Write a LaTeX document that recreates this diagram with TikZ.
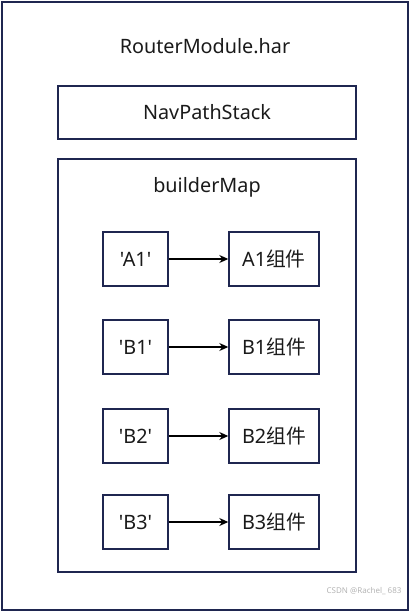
\documentclass[tikz,border=0pt]{standalone}
\usepackage{fontspec}
\newfontfamily\labelfont{Noto Sans}
\newfontfamily\cjk{Noto Sans CJK SC}
\usepackage{xcolor}
\usetikzlibrary{arrows.meta,positioning}
\definecolor{navyline}{HTML}{1F2650}
\definecolor{textmain}{HTML}{1A1A1A}
\definecolor{graymark}{HTML}{B4B4B4}
\tikzset{every node/.append style={font=\labelfont\fontsize{19.8}{23}\selectfont,text=textmain}}
\begin{document}
\begin{tikzpicture}[x=1pt,y=-1pt,>={Stealth[length=9pt,width=8pt]},
    frame/.style={draw=navyline,line width=1.4pt},
    keybox/.style={frame,minimum width=65pt,minimum height=54pt,inner sep=0pt},
    compbox/.style={frame,minimum width=90pt,minimum height=54pt,inner sep=0pt}]
  \useasboundingbox (0,0) rectangle (410,612);
  \draw[frame,line width=1.8pt] (2,2) rectangle (408,610);
  \node (har) at (205,46) {RouterModule.har};
  \node[frame,minimum width=298pt,minimum height=53pt] (stack) at (207,112.5) {NavPathStack};
  \draw[frame] (58,159) rectangle (356,572);
  \node (map) at (207,187) {builderMap};
  % key -> component
  \foreach \k/\yy in {A1/259,B1/347,B2/436,B3/522}{
    \node[keybox] (key\k) at (135.5,\yy) {'\k'};
    \node[compbox] (comp\k) at (274,\yy) {\k{\cjk 组件}};
    \draw[->,black,line width=1.3pt] (key\k) -- (comp\k);
  }
  \node[text=graymark,font=\labelfont\fontsize{8}{10}\selectfont,anchor=east] (mark) at (405,591) {CSDN @Rachel\_ 683};
\end{tikzpicture}
\end{document}
